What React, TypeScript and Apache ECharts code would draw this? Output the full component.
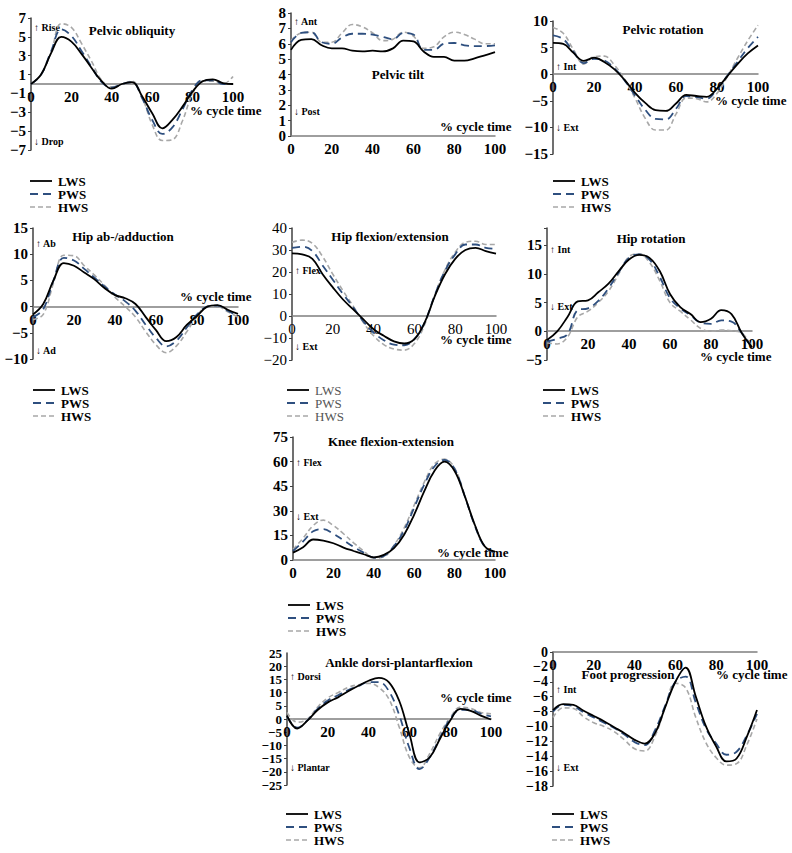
import React, { useEffect, useRef } from 'react';
import * as echarts from 'echarts';

// % cycle time sample points
const cycle = [0, 5, 10, 15, 20, 25, 30, 35, 40, 45, 50, 55, 60, 65, 70, 75, 80, 85, 90, 95, 100];
const xTicks = [0, 20, 40, 60, 80, 100];
const speeds = ['LWS', 'PWS', 'HWS'];

// Pelvic obliquity
const obliquityLWS = [0, 1.0, 3.3, 5.0, 4.5, 3.2, 1.7, 0.3, -0.5, 0.0, 0.2, -1.3, -3.1, -4.7, -3.8, -2.4, -0.8, 0.3, 0.5, 0.1, 0];
const obliquityPWS = [0, 1.0, 3.5, 5.8, 5.1, 3.5, 1.8, 0.2, -0.4, 0.0, 0.2, -1.5, -3.8, -5.3, -4.6, -2.7, -0.6, 0.4, 0.4, 0.0, 0];
const obliquityHWS = [0, 1.0, 3.4, 6.4, 6.0, 4.3, 2.4, 0.4, -0.3, 0.0, 0.3, -1.4, -4.3, -6.0, -5.9, -3.9, -1.0, 0.3, 0.3, 0.0, 0.8];

// Pelvic tilt
const tiltLWS = [5.6, 6.25, 6.3, 5.9, 5.7, 5.7, 5.55, 5.5, 5.55, 5.5, 5.7, 6.2, 6.15, 5.5, 5.15, 5.15, 4.9, 4.9, 5.05, 5.25, 5.45];
const tiltPWS = [6.1, 6.7, 6.75, 6.1, 6.0, 6.4, 6.65, 6.65, 6.6, 6.45, 6.3, 6.7, 6.6, 5.6, 5.6, 6.0, 6.05, 5.9, 5.85, 5.85, 5.9];
const tiltHWS = [6.2, 6.7, 6.75, 6.1, 6.1, 6.7, 7.25, 7.1, 6.7, 6.2, 6.3, 6.75, 6.5, 5.7, 5.8, 6.45, 6.75, 6.6, 6.3, 6.0, 6.0];

// Pelvic rotation
const rotationLWS = [5.9, 5.7, 4.0, 2.5, 3.1, 2.3, 0.9, -1.1, -3.5, -5.4, -6.75, -6.9, -5.5, -3.9, -4.1, -4.25, -2.7, -0.4, 1.9, 3.9, 5.4];
const rotationPWS = [7.3, 6.6, 4.2, 2.1, 2.9, 2.6, 1.1, -1.2, -4.0, -6.7, -8.4, -8.5, -6.5, -4.1, -4.3, -4.6, -2.8, -0.3, 2.3, 4.9, 7.0];
const rotationHWS = [8.8, 7.7, 4.6, 1.9, 3.3, 3.4, 1.7, -1.0, -4.5, -8.3, -10.5, -10.5, -7.5, -4.5, -4.6, -5.2, -3.6, -0.5, 3.0, 6.3, 9.2];

// Hip ab-/adduction
const hipAbdLWS = [-1.5, 0.5, 5.0, 8.3, 7.8, 6.5, 5.2, 3.5, 2.2, 1.6, 0.5, -2.0, -4.5, -6.6, -5.8, -3.5, -1.8, 0.0, 0.3, -0.6, -1.4];
const hipAbdPWS = [-2.0, -0.5, 5.0, 9.3, 8.8, 7.2, 5.5, 3.8, 2.3, 1.0, -0.8, -3.5, -6.0, -7.6, -6.5, -4.0, -1.5, 0.0, 0.2, -0.8, -1.8];
const hipAbdHWS = [-2.5, -1.5, 4.5, 9.8, 9.7, 7.8, 6.0, 4.0, 1.8, 0.0, -2.0, -4.8, -7.3, -8.8, -7.5, -4.8, -1.8, 0.0, 0.0, -1.0, -2.0];

// Hip flexion/extension
const hipFlexLWS = [28.5, 28.0, 26.0, 19.0, 13.0, 7.5, 3.0, -1.5, -6.0, -9.0, -11.5, -12.5, -10.5, -3.0, 9.0, 19.0, 26.0, 30.0, 31.0, 29.5, 28.3];
const hipFlexPWS = [31.0, 31.5, 29.5, 23.0, 16.5, 10.0, 4.0, -2.5, -7.5, -11.0, -13.0, -13.3, -10.5, -3.0, 9.5, 20.5, 28.0, 32.5, 32.5, 31.0, 30.5];
const hipFlexHWS = [33.5, 34.5, 33.0, 27.0, 19.0, 11.5, 4.5, -3.0, -9.0, -13.0, -15.0, -15.5, -12.5, -4.0, 9.5, 21.0, 29.0, 33.5, 34.0, 32.5, 32.5];

// Hip rotation
const hipRotLWS = [-1.5, 0.0, 2.5, 5.2, 5.4, 6.8, 8.3, 10.5, 12.5, 13.3, 12.8, 10.5, 6.5, 4.2, 3.0, 1.6, 2.2, 3.7, 3.0, -0.3, -2.8];
const hipRotPWS = [-1.8, -1.3, -0.5, 3.7, 4.0, 5.3, 7.5, 10.3, 12.8, 13.4, 12.5, 9.5, 5.8, 4.0, 2.8, 1.5, 1.3, 1.9, 1.7, -0.3, -2.8];
const hipRotHWS = [-2.0, -2.2, -1.0, 2.5, 3.5, 5.0, 7.0, 10.0, 13.0, 13.5, 12.0, 8.8, 5.0, 3.5, 2.0, 0.5, 0.0, 0.2, 0.1, -0.3, -2.8];

// Knee flexion-extension
const kneeLWS = [4.5, 7.8, 12.5, 11.8, 10.2, 7.6, 5.5, 3.5, 1.6, 3.1, 7.2, 15.4, 27.7, 42.0, 54.3, 60.0, 54.3, 39.0, 21.5, 8.2, 5.1];
const kneePWS = [5.5, 11.3, 17.5, 18.8, 16.0, 12.0, 8.0, 4.5, 1.5, 2.5, 8.5, 18.0, 32.0, 46.0, 57.0, 61.0, 55.5, 39.0, 21.0, 8.0, 4.5];
const kneeHWS = [6.5, 13.3, 21.0, 24.3, 21.0, 16.0, 10.5, 5.5, 1.2, 2.0, 9.0, 19.5, 33.5, 47.5, 58.5, 61.5, 56.0, 39.5, 21.0, 8.0, 4.5];

// Ankle dorsi-plantarflexion
const ankleLWS = [1.3, -3.6, -0.6, 3.4, 6.3, 8.2, 10.5, 12.6, 14.5, 15.6, 13.9, 6.9, -5.7, -16.4, -14.5, -7.5, -0.6, 3.8, 3.1, 1.3, -0.2];
const anklePWS = [1.0, -3.3, -0.5, 3.8, 7.0, 9.0, 11.0, 12.5, 14.0, 14.0, 10.5, 1.5, -11.0, -19.0, -14.5, -7.0, 0.0, 3.5, 3.5, 2.0, 1.0];
const ankleHWS = [2.5, -1.2, 0.0, 4.5, 8.0, 10.0, 12.0, 13.0, 13.5, 12.0, 7.5, -3.0, -14.5, -18.5, -13.0, -5.5, 0.5, 4.5, 4.0, 2.5, 2.0];

// Foot progression
const footLWS = [-7.8, -7.0, -7.1, -7.9, -8.6, -9.3, -10.1, -10.9, -11.8, -12.3, -10.9, -7.4, -4.0, -2.1, -6.0, -10.0, -12.7, -14.7, -14.3, -11.4, -7.8];
const footPWS = [-8.0, -7.1, -7.3, -8.1, -8.8, -9.5, -10.2, -11.1, -12.1, -12.5, -10.5, -7.2, -4.0, -3.3, -6.8, -10.3, -12.3, -13.8, -13.4, -11.2, -8.3];
const footHWS = [-8.8, -7.5, -7.6, -8.7, -9.5, -10.0, -10.7, -11.8, -13.0, -13.3, -11.3, -7.5, -4.2, -4.8, -8.8, -12.2, -14.2, -15.2, -15.0, -12.5, -9.0];

const FONT = '"Liberation Serif", "Times New Roman", serif';

const STYLES: Record<string, { color: string; dash: number[] | null; width: number }> = {
  LWS: { color: '#000000', dash: null, width: 1.8 },
  PWS: { color: '#2E4F7F', dash: [8, 5], width: 1.8 },
  HWS: { color: '#A8A8A8', dash: [5, 3], width: 1.6 },
};

type Panel = {
  title: string;
  series: number[][];
  grid: { left: number; top: number; width: number; height: number };
  yMin: number; yMax: number; yInterval: number;
  labelSize: number;
  titlePos: [number, number];
  cyclePos: [number, number];
  up: string; down: string;
  upPos: [number, number]; downPos: [number, number];
  legendPos: [number, number] | null;
  light?: boolean;
  separateMaxLabel?: boolean;
};

const panels: Panel[] = [
  {
    title: 'Pelvic obliquity', series: [obliquityLWS, obliquityPWS, obliquityHWS],
    grid: { left: 31, top: 18, width: 202, height: 132 }, yMin: -7, yMax: 7, yInterval: 2, labelSize: 15,
    titlePos: [132, 30], cyclePos: [190, 110], up: '\u2191 Rise', down: '\u2193 Drop',
    upPos: [34, 27], downPos: [34, 141], legendPos: [30, 181],
  },
  {
    title: 'Pelvic tilt', series: [tiltLWS, tiltPWS, tiltHWS],
    grid: { left: 291, top: 13, width: 204, height: 123 }, yMin: 0, yMax: 8, yInterval: 1, labelSize: 15,
    titlePos: [398, 74], cyclePos: [440, 126], up: '\u2191 Ant', down: '\u2193 Post',
    upPos: [294, 21], downPos: [294, 111], legendPos: null,
  },
  {
    title: 'Pelvic rotation', series: [rotationLWS, rotationPWS, rotationHWS],
    grid: { left: 553, top: 21, width: 205, height: 133 }, yMin: -15, yMax: 10, yInterval: 5, labelSize: 15,
    titlePos: [663, 29], cyclePos: [715, 100], up: '\u2191 Int', down: '\u2193 Ext',
    upPos: [556, 66], downPos: [556, 127], legendPos: [553, 181],
  },
  {
    title: 'Hip ab-/adduction', series: [hipAbdLWS, hipAbdPWS, hipAbdHWS],
    grid: { left: 33, top: 228, width: 205, height: 131 }, yMin: -10, yMax: 15, yInterval: 5, labelSize: 15,
    titlePos: [123, 236], cyclePos: [180, 296], up: '\u2191 Ab', down: '\u2193 Ad',
    upPos: [36, 243], downPos: [36, 350], legendPos: [33, 390],
  },
  {
    title: 'Hip flexion/extension', series: [hipFlexLWS, hipFlexPWS, hipFlexHWS],
    grid: { left: 292, top: 228, width: 204, height: 132 }, yMin: -20, yMax: 40, yInterval: 10, labelSize: 15,
    titlePos: [390, 236], cyclePos: [440, 339], up: '\u2191 Flex', down: '\u2193 Ext',
    upPos: [295, 270], downPos: [295, 346], legendPos: [287, 390], light: true,
  },
  {
    title: 'Hip rotation', series: [hipRotLWS, hipRotPWS, hipRotHWS],
    grid: { left: 547, top: 228, width: 205, height: 132 }, yMin: -5, yMax: 18, yInterval: 5, labelSize: 15,
    titlePos: [651, 238], cyclePos: [700, 356], up: '\u2191 Int', down: '\u2193 Ext',
    upPos: [550, 249], downPos: [550, 306], legendPos: [543, 390],
  },
  {
    title: 'Knee flexion-extension', series: [kneeLWS, kneePWS, kneeHWS],
    grid: { left: 293, top: 437, width: 202, height: 123 }, yMin: 0, yMax: 75, yInterval: 15, labelSize: 15,
    titlePos: [391, 441], cyclePos: [437, 552], up: '\u2191 Flex', down: '\u2193 Ext',
    upPos: [296, 462], downPos: [296, 516], legendPos: [288, 605],
  },
  {
    title: 'Ankle dorsi-plantarflexion', series: [ankleLWS, anklePWS, ankleHWS],
    grid: { left: 287, top: 653, width: 204, height: 132 }, yMin: -25, yMax: 25, yInterval: 5, labelSize: 13,
    titlePos: [399, 662], cyclePos: [440, 697], up: '\u2191 Dorsi', down: '\u2193 Plantar',
    upPos: [290, 676], downPos: [290, 767], legendPos: [286, 814], separateMaxLabel: true,
  },
  {
    title: 'Foot progression', series: [footLWS, footPWS, footHWS],
    grid: { left: 553, top: 652, width: 204, height: 134 }, yMin: -18, yMax: 0, yInterval: 2, labelSize: 14,
    titlePos: [628, 674], cyclePos: [716, 674], up: '\u2191 Int', down: '\u2193 Ext',
    upPos: [556, 689], downPos: [556, 767], legendPos: [552, 814],
  },
];

const fmtNum = (v: number) => (v < 0 ? '\u2212' + String(-v) : String(v));
const LABEL_MARGIN = 5;

function buildOption() {
  const grids: any[] = [];
  const xAxes: any[] = [];
  const yAxes: any[] = [];
  const series: any[] = [];
  const graphics: any[] = [];

  panels.forEach((p, i) => {
    const weight = p.light ? 'normal' : 'bold';
    grids.push({ ...p.grid, containLabel: false, outerBoundsMode: 'none' });
    // place the x axis (line + labels) at y = 0 of the value scale
    const zeroFrac = (0 - p.yMin) / (p.yMax - p.yMin);
    const zeroOffset = -Math.round(p.grid.height * zeroFrac);
    xAxes.push({
      type: 'value', gridIndex: i, position: 'bottom', offset: zeroOffset,
      min: xTicks[0], max: xTicks[xTicks.length - 1], interval: 20,
      splitLine: { show: false },
      axisLine: { onZero: false, lineStyle: { color: '#7F7F7F', width: 1.5 } },
      axisTick: { show: false },
      axisLabel: {
        margin: LABEL_MARGIN, fontFamily: FONT, fontWeight: weight, fontSize: 15, color: '#000',
        showMinLabel: true, showMaxLabel: true,
      },
    });
    const yInt = p.yInterval;
    yAxes.push({
      type: 'value', gridIndex: i, min: p.yMin, max: p.yMax, interval: yInt,
      splitLine: { show: false },
      axisLine: { show: true, onZero: false, lineStyle: { color: '#404040', width: 1.5 } },
      axisTick: { show: true, length: 3, lineStyle: { color: '#404040' } },
      axisLabel: {
        interval: 0, margin: LABEL_MARGIN, fontFamily: FONT, fontWeight: weight, fontSize: p.labelSize,
        lineHeight: Math.min(p.labelSize, 10), color: '#000', hideOverlap: false,
        showMinLabel: true, showMaxLabel: !p.separateMaxLabel,
        formatter: (v: number) => {
          if (p.separateMaxLabel && v === p.yMax) return '';
          return Math.abs((v - p.yMin) % yInt) < 1e-6 ? fmtNum(v) : '';
        },
      },
    });
    if (p.separateMaxLabel) {
      // the top tick label of a tightly packed axis, set at the axis' top end
      graphics.push({
        type: 'text', x: p.grid.left - LABEL_MARGIN, y: p.grid.top,
        style: {
          text: fmtNum(p.yMax), font: `${weight} ${p.labelSize}px ${FONT}`, fill: '#000',
          align: 'right', verticalAlign: 'middle',
        },
      });
    }
    p.series.forEach((vals, k) => {
      const name = speeds[k];
      const st = STYLES[name];
      series.push({
        name, type: 'line', xAxisIndex: i, yAxisIndex: i, smooth: 0.4,
        symbol: 'none', showSymbol: false,
        data: cycle.map((c, j) => [c, vals[j]]),
        itemStyle: { color: st.color },
        lineStyle: { color: st.color, type: st.dash ? st.dash : 'solid', width: st.width },
        z: 3 - k,
      });
    });
    if (p.legendPos) {
      const [lx, ly] = p.legendPos;
      speeds.forEach((name, k) => {
        const st = STYLES[name];
        const y = ly + k * 13;
        graphics.push({
          type: 'line', shape: { x1: lx, y1: y, x2: lx + 22, y2: y },
          style: { stroke: st.color, lineWidth: st.width, lineDash: st.dash || undefined },
        });
        graphics.push({
          type: 'text', x: lx + 28, y,
          style: {
            text: name, font: `${weight} 13px ${FONT}`, fill: p.light ? '#555' : '#000',
            align: 'left', verticalAlign: 'middle',
          },
        });
      });
    }
    graphics.push({
      type: 'text', x: p.titlePos[0], y: p.titlePos[1],
      style: { text: p.title, font: `bold 13px ${FONT}`, fill: '#000', align: 'center', verticalAlign: 'middle' },
    });
    graphics.push({
      type: 'text', x: p.cyclePos[0], y: p.cyclePos[1],
      style: { text: '% cycle time', font: `bold 13px ${FONT}`, fill: '#000', align: 'left', verticalAlign: 'middle' },
    });
    graphics.push({
      type: 'text', x: p.upPos[0], y: p.upPos[1],
      style: { text: p.up, font: `bold 10px ${FONT}`, fill: '#000', align: 'left', verticalAlign: 'middle' },
    });
    graphics.push({
      type: 'text', x: p.downPos[0], y: p.downPos[1],
      style: { text: p.down, font: `bold 10px ${FONT}`, fill: '#000', align: 'left', verticalAlign: 'middle' },
    });
  });

  return {
    animation: false,
    backgroundColor: '#ffffff',
    grid: grids,
    xAxis: xAxes,
    yAxis: yAxes,
    series,
    graphic: { elements: graphics },
  };
}

export default function App() {
  const ref = useRef<HTMLDivElement>(null);
  useEffect(() => {
    if (!ref.current) return;
    const chart = echarts.init(ref.current, undefined, { renderer: 'svg' });
    chart.setOption(buildOption() as any);
    return () => chart.dispose();
  }, []);
  return (
    <div
      ref={ref}
      style={{ position: 'absolute', left: 0, top: 0, width: 792, height: 853, background: '#fff' }}
    />
  );
}
